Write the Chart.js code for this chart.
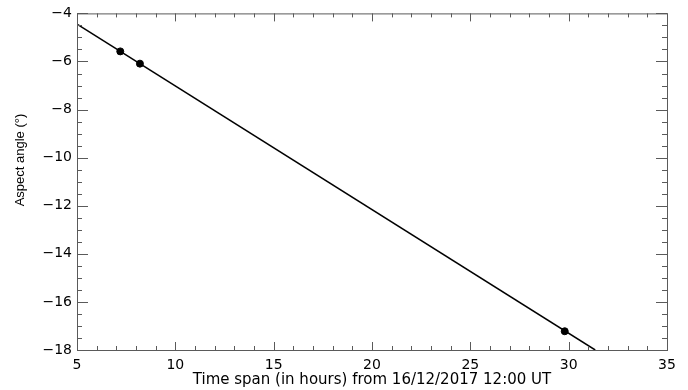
<!DOCTYPE html>
<html>
<head>
<meta charset="utf-8">
<script src="https://cdn.jsdelivr.net/npm/chart.js@4"></script>
<style>
  html, body { margin: 0; padding: 0; background: #fff; }
  #wrap { width: 688px; height: 390px; }
</style>
</head>
<body>
<div id="wrap"><canvas id="myChart"></canvas></div>
<script>
// fitted line (aspect angle vs time)
const lineX = [5, 31.35];
const lineY = [-4.45, -18];
// observation points
const obsX = [7.2, 8.2, 29.8];
const obsY = [-5.58, -6.09, -17.22];
// axes
const xTicks = [5, 10, 15, 20, 25, 30, 35];
const yTicks = [-18, -16, -14, -12, -10, -8, -6, -4];

const axisColor = "#5a5a5a";

function toPoints(xs, ys) {
  return xs.map((x, i) => ({ x: x, y: ys[i] }));
}

// ticks pointing into the plot on all four sides, plus the frame
const insideTicks = {
  id: "insideTicks",
  afterDatasetsDraw(chart) {
    const { ctx, chartArea: a, scales } = chart;
    const x = scales.x, y = scales.y;
    ctx.save();
    ctx.strokeStyle = axisColor;
    ctx.lineWidth = 1;
    ctx.strokeRect(a.left + 0.5, a.top + 0.5, a.right - a.left, a.bottom - a.top);
    ctx.beginPath();
    for (let v = xTicks[0]; v <= xTicks[xTicks.length - 1]; v += 1) {
      const px = Math.round(x.getPixelForValue(v)) + 0.5;
      const len = xTicks.includes(v) ? 8 : 4;
      ctx.moveTo(px, a.bottom); ctx.lineTo(px, a.bottom - len);
      ctx.moveTo(px, a.top); ctx.lineTo(px, a.top + len);
    }
    for (let v = yTicks[0]; v <= yTicks[yTicks.length - 1]; v += 0.5) {
      const py = Math.round(y.getPixelForValue(v)) + 0.5;
      const len = yTicks.includes(v) ? 11 : 5;
      ctx.moveTo(a.left, py); ctx.lineTo(a.left + len, py);
      ctx.moveTo(a.right, py); ctx.lineTo(a.right - len, py);
    }
    ctx.stroke();
    ctx.restore();
  }
};

const tickFont = { family: "'DejaVu Sans'", size: 14 };

new Chart(document.getElementById("myChart"), {
  type: "scatter",
  data: {
    datasets: [
      {
        data: toPoints(lineX, lineY),
        showLine: true,
        borderColor: "#000",
        borderWidth: 1.5,
        pointRadius: 0
      },
      {
        data: toPoints(obsX, obsY),
        backgroundColor: "#000",
        borderColor: "#000",
        pointRadius: 3.5
      }
    ]
  },
  options: {
    responsive: true,
    maintainAspectRatio: false,
    animation: false,
    layout: { padding: { top: 13, right: 21, left: 0, bottom: 0 } },
    plugins: { legend: { display: false }, tooltip: { enabled: false } },
    scales: {
      x: {
        type: "linear",
        min: 5,
        max: 35,
        afterBuildTicks: (s) => { s.ticks = xTicks.map((v) => ({ value: v })); },
        afterFit: (s) => { s.height = 40; },
        grid: { display: false, drawTicks: false },
        border: { display: false },
        ticks: { color: "#000", font: tickFont, padding: 7, maxRotation: 0 },
        title: {
          display: true,
          text: "Time span (in hours) from 16/12/2017 12:00 UT",
          color: "#000",
          font: { family: "'DejaVu Sans'", size: 15 },
          padding: { top: 0, bottom: 1 }
        }
      },
      y: {
        type: "linear",
        min: -18,
        max: -4,
        afterBuildTicks: (s) => { s.ticks = yTicks.map((v) => ({ value: v })); },
        afterFit: (s) => { s.width = 77; },
        grid: { display: false, drawTicks: false },
        border: { display: false },
        ticks: {
          color: "#000",
          font: tickFont,
          padding: 5,
          callback: (v) => String(v).replace("-", "\u2212")
        },
        title: {
          display: true,
          text: "            Aspect angle (°)",
          color: "#000",
          font: { family: "'Liberation Sans'", size: 13 },
          padding: { top: 13, bottom: 0 }
        }
      }
    }
  },
  plugins: [insideTicks]
});
</script>
</body>
</html>
